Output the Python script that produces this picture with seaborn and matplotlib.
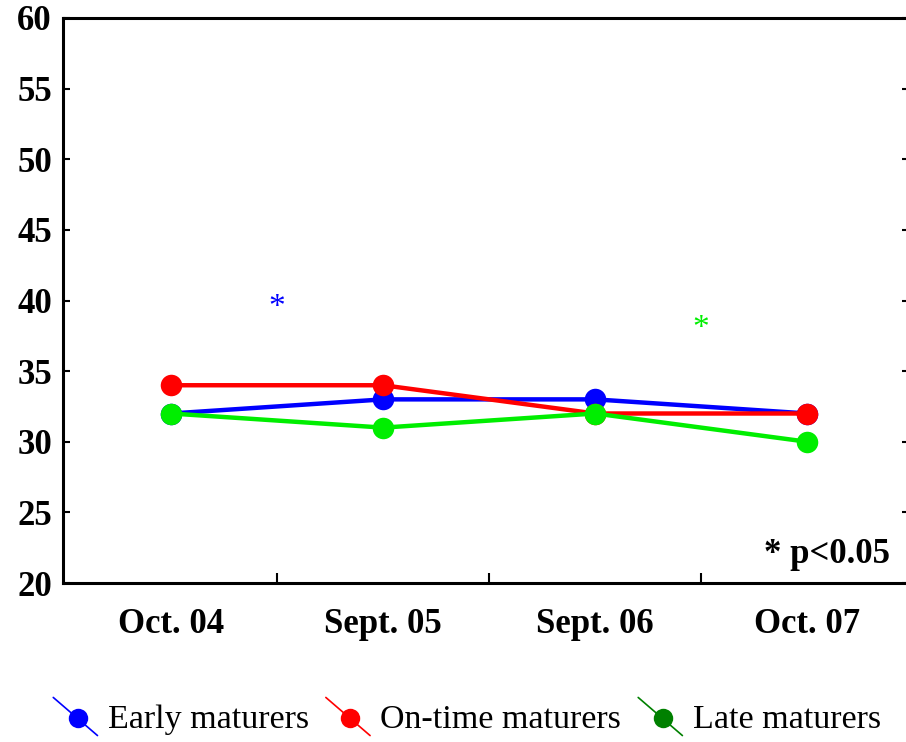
import pandas as pd
import matplotlib
matplotlib.use("Agg")
import matplotlib.pyplot as plt
import seaborn as sns
from matplotlib.legend_handler import HandlerBase
from matplotlib.lines import Line2D

# data
waves = ['Oct. 04', 'Sept. 05', 'Sept. 06', 'Oct. 07']
early = [32, 33, 33, 32]
ontime = [34, 34, 32, 32]
late = [32, 31, 32, 30]
groups = ['Early maturers', 'On-time maturers', 'Late maturers']
line_colors = ['#0000ff', '#ff0000', '#00ee00']
legend_colors = ['#0000ff', '#ff0000', '#008000']

# significance stars between waves
star_x = [0.5, 2.5]
star_y = [40.3, 38.8]
star_colors = ['#0000ff', '#00ee00']

yticks = [20, 25, 30, 35, 40, 45, 50, 55, 60]

df = pd.DataFrame({
    'wave': waves * 3,
    'value': early + ontime + late,
    'group': [g for g in groups for _ in waves],
})

sns.set_style('white')
plt.rcParams['font.family'] = ['Liberation Serif', 'DejaVu Serif']
plt.rcParams['text.color'] = 'black'
plt.rcParams['xtick.color'] = 'black'
plt.rcParams['ytick.color'] = 'black'

fig = plt.figure(figsize=(9.06, 7.42), dpi=100)
ax = fig.add_axes([63 / 906, (742 - 583) / 742, 846 / 906, 565 / 742])

sns.lineplot(data=df, x='wave', y='value', hue='group', palette=line_colors,
             marker='o', markersize=15.5, markeredgewidth=0, linewidth=3.2,
             sort=False, ax=ax, legend=False)

ax.set_xlim(-0.51, 3.48)
ax.set_ylim(20, 60)
ax.set_yticks(yticks)
ax.set_xticks(range(len(waves)))
ax.set_xticklabels(waves)
ax.set_xticks([0.5, 1.5, 2.5], minor=True)
ax.set_xlabel('')
ax.set_ylabel('')

for s in ax.spines.values():
    s.set_visible(True)
    s.set_color('black')
    s.set_linewidth(2.2)

ax.tick_params(axis='x', which='major', length=0, pad=18, bottom=True)
ax.tick_params(axis='x', which='minor', direction='in', length=7, width=1.5,
               bottom=True, top=False)
ax.tick_params(axis='y', direction='in', length=5, width=1.5, left=True, right=True, pad=8)
for lab in ax.get_xticklabels() + ax.get_yticklabels():
    lab.set_fontweight('bold')
    lab.set_fontsize(25)
    lab.set_color('black')

# stars: glyph sits high in its box, so anchor at its baseline
for x, y, c in zip(star_x, star_y, star_colors):
    ax.annotate('*', (x, y), xytext=(0, -14), textcoords='offset points',
                color=c, fontsize=24, ha='center', va='baseline')

ax.text(0.977, 0.035, '* p<0.05', transform=ax.transAxes, ha='right', va='baseline',
        fontsize=25, fontweight='bold', color='black')


class DiagHandler(HandlerBase):
    def create_artists(self, legend, orig_handle, xdescent, ydescent,
                       width, height, fontsize, trans):
        x0, y0 = -xdescent, -ydescent
        c = orig_handle.get_color()
        ln = Line2D([x0, x0 + width], [y0 + height * 1.3, y0 - height * 0.3],
                    color=c, linewidth=1.2, transform=trans)
        mk = Line2D([x0 + width * 0.55], [y0 + height * 0.45], marker='o', markersize=14,
                    color=c, markeredgewidth=0, linestyle='none', transform=trans)
        return [ln, mk]


handles = [Line2D([], [], color=c) for c in legend_colors]
fig.legend(handles, groups, loc='center', bbox_to_anchor=(467 / 906, 1 - 720 / 742),
           ncol=3, frameon=False, fontsize=24.5, handlelength=1.3, handletextpad=0.3,
           columnspacing=0.5, handler_map={Line2D: DiagHandler()})

fig.savefig('out.png', dpi=100)
